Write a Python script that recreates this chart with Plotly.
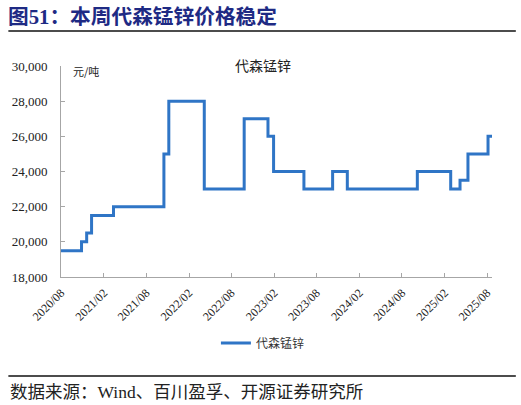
import plotly.graph_objects as go

# ---- data (change points of a step series) ----
dates = ["2020-08-01", "2020-10-28", "2020-11-19", "2020-12-10", "2021-03-14",
         "2021-10-16", "2021-11-06", "2022-04-07", "2022-09-25", "2023-01-05",
         "2023-01-29", "2023-06-08", "2023-10-09", "2023-12-11", "2024-10-06",
         "2025-02-26", "2025-04-07", "2025-05-11", "2025-08-05", "2025-08-22"]
prices = [19500, 20000, 20500, 21500, 22000,
          25000, 28000, 23000, 27000, 26000,
          24000, 23000, 24000, 23000, 24000,
          23000, 23500, 25000, 26000, 26000]
series_name = "代森锰锌"
tick_dates = ["2020-08-01", "2021-02-01", "2021-08-01", "2022-02-01", "2022-08-01",
              "2023-02-01", "2023-08-01", "2024-02-01", "2024-08-01", "2025-02-01",
              "2025-08-01"]
tick_labels = ["2020/08", "2021/02", "2021/08", "2022/02", "2022/08", "2023/02",
               "2023/08", "2024/02", "2024/08", "2025/02", "2025/08"]

W, H = 521, 405
ML, MR, MT, MB = 58, 29, 66, 128
PW, PH = W - ML - MR, H - MT - MB


def px(x):
    return (x - ML) / PW


def py(y):
    return (H - MB - y) / PH


CJK = "Noto Sans CJK SC"
SERIF = "Liberation Serif, " + CJK

fig = go.Figure()
fig.add_trace(go.Scatter(
    x=dates, y=prices, name=series_name, mode="lines",
    line=dict(color="#2F75C6", width=3, shape="hv"),
))

fig.update_layout(
    width=W, height=H,
    margin=dict(l=ML, r=MR, t=MT, b=MB),
    paper_bgcolor="white", plot_bgcolor="white",
    showlegend=True,
    legend=dict(orientation="h", x=px(214), xanchor="left", y=py(343), yanchor="middle",
                font=dict(family=CJK, size=12, color="#333"),
                itemwidth=30, bgcolor="rgba(0,0,0,0)"),
    xaxis=dict(
        type="date", range=["2020-08-01", "2025-08-22"],
        tickvals=tick_dates, ticktext=tick_labels, tickangle=-45,
        tickfont=dict(family="Liberation Serif", size=12, color="#222"),
        ticklabelstandoff=3,
        showgrid=False, zeroline=False,
        showline=True, linecolor="#A6A6A6", linewidth=1,
        ticks="inside", ticklen=4, tickcolor="#A6A6A6",
    ),
    yaxis=dict(
        range=[18000, 30000], dtick=2000, tick0=18000, tickformat=",",
        tickfont=dict(family="Liberation Serif", size=13, color="#222"),
        ticklabelstandoff=10,
        showgrid=False, zeroline=False,
        showline=True, linecolor="#A6A6A6", linewidth=1,
        ticks="inside", ticklen=4, tickcolor="#A6A6A6",
    ),
)

# title block
fig.add_annotation(text="<b>图51：本周代森锰锌价格稳定</b>", xref="paper", yref="paper",
                   x=px(3), y=py(17), xanchor="left", yanchor="middle", showarrow=False,
                   font=dict(family=SERIF, size=20.7, color="#1E2A84"))
fig.add_shape(type="line", xref="paper", yref="paper", x0=px(5), x1=px(516),
              y0=py(31), y1=py(31), line=dict(color="#111", width=1.5), layer="above")
# chart title
fig.add_annotation(text="代森锰锌", xref="paper", yref="paper",
                   x=px(261), y=py(65), xanchor="center", yanchor="middle", showarrow=False,
                   font=dict(family=CJK, size=14, color="#222"))
# unit
fig.add_annotation(text="元/吨", xref="paper", yref="paper",
                   x=px(68), y=py(71), xanchor="left", yanchor="middle", showarrow=False,
                   font=dict(family=CJK, size=11, color="#222"))
# footer
fig.add_shape(type="line", xref="paper", yref="paper", x0=px(5), x1=px(516),
              y0=py(376), y1=py(376), line=dict(color="#111", width=1.5), layer="above")
fig.add_annotation(text="数据来源：Wind、百川盈孚、开源证券研究所", xref="paper", yref="paper",
                   x=px(5), y=py(392), xanchor="left", yanchor="middle", showarrow=False,
                   font=dict(family=SERIF, size=17.5, color="#222"))

fig.write_html("out.html", config={"displayModeBar": False},
               post_script="document.body.style.margin='0';")
